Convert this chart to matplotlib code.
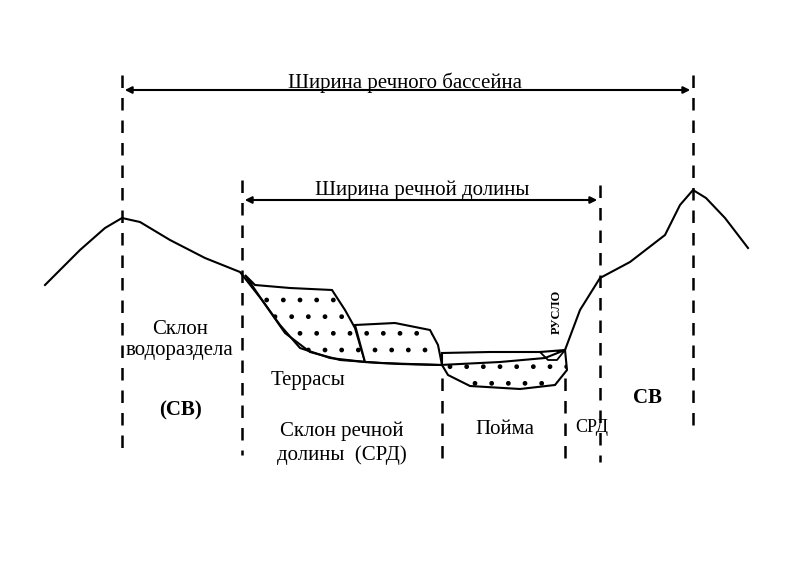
import matplotlib
matplotlib.use("Agg")
import matplotlib.pyplot as plt
from matplotlib.patches import Polygon

plt.rcParams["font.family"] = "Liberation Serif"

# ground profile (image pixel coords)
ground_x = [45, 80, 105, 122, 140, 170, 205, 240, 262, 285, 310, 340, 380, 440, 500, 545, 565, 580, 600, 630, 665, 680, 693, 706, 725, 748]
ground_y = [285, 250, 228, 218, 222, 240, 258, 272, 300, 333, 352, 360, 363, 365, 362, 358, 350, 310, 278, 262, 235, 205, 190, 198, 218, 248]

# upper terrace deposit outline
terr1_x = [245, 255, 290, 332, 345, 355, 365, 330, 300, 280, 262, 245]
terr1_y = [275, 285, 288, 290, 310, 328, 362, 358, 348, 325, 300, 275]
# lower terrace deposit outline
terr2_x = [355, 395, 430, 438, 442, 400, 365, 355]
terr2_y = [325, 323, 330, 345, 365, 364, 362, 325]
# floodplain deposit
flood_x = [442, 490, 540, 565, 567, 555, 520, 470, 448, 442]
flood_y = [353, 352, 352, 350, 370, 385, 389, 386, 375, 365]
# channel
chan_x = [540, 548, 557, 565]
chan_y = [352, 360, 360, 350]

# dashed verticals: x, top, bottom
dashes = [(122, 75, 452), (242, 180, 455), (442, 378, 462), (565, 378, 462), (600, 185, 462), (693, 75, 430)]

fig = plt.figure(figsize=(8, 5.82), dpi=100)
ax = fig.add_axes([0, 0, 1, 1])
ax.set_xlim(0, 800)
ax.set_ylim(582, 0)
ax.axis("off")

for xs, ys in [(terr1_x, terr1_y), (terr2_x, terr2_y), (flood_x, flood_y)]:
    ax.add_patch(Polygon(list(zip(xs, ys)), closed=True, facecolor="white",
                         edgecolor="black", hatch=".", lw=1.5))
ax.plot(ground_x, ground_y, color="black", lw=1.5)
ax.plot(chan_x, chan_y, color="black", lw=1.3)

for x, y0, y1 in dashes:
    ax.plot([x, x], [y0, y1], color="black", lw=1.8, ls=(0, (5, 4)))

ax.annotate("", xy=(122, 90), xytext=(693, 90),
            arrowprops=dict(arrowstyle="<|-|>", color="black", lw=1.5))
ax.annotate("", xy=(242, 200), xytext=(600, 200),
            arrowprops=dict(arrowstyle="<|-|>", color="black", lw=1.5))

fs = 15
ax.text(405, 83, "Ширина речного бассейна", ha="center", va="center", fontsize=fs)
ax.text(422, 190, "Ширина речной долины", ha="center", va="center", fontsize=fs)
ax.text(180, 340, "Склон\nводораздела", ha="center", va="center", fontsize=fs, linespacing=1.2)
ax.text(180, 410, "(СВ)", ha="center", va="center", fontsize=fs, fontweight="bold")
ax.text(308, 380, "Террасы", ha="center", va="center", fontsize=fs)
ax.text(342, 443, "Склон речной\nдолины  (СРД)", ha="center", va="center", fontsize=fs, linespacing=1.3)
ax.text(505, 430, "Пойма", ha="center", va="center", fontsize=fs)
ax.text(592, 428, "СРД", ha="center", va="center", fontsize=13)
ax.text(648, 398, "СВ", ha="center", va="center", fontsize=fs, fontweight="bold")
ax.text(557, 312, "РУСЛО", ha="center", va="center", fontsize=9, rotation=90, fontweight="bold")

fig.savefig("out.png", dpi=100)
